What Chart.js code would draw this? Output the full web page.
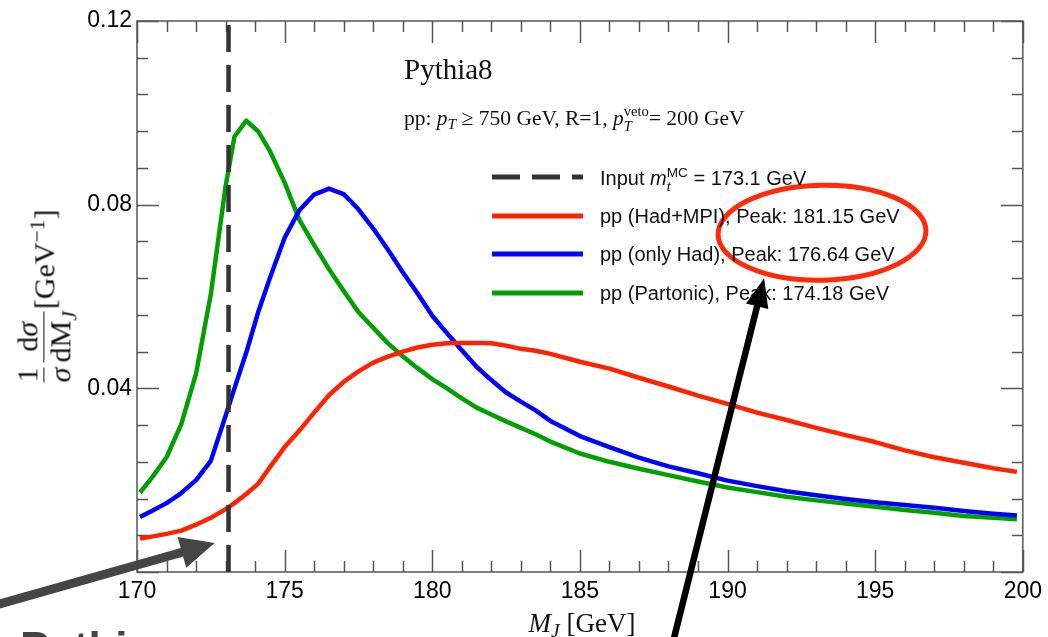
<!DOCTYPE html>
<html><head><meta charset="utf-8">
<script src="https://cdn.jsdelivr.net/npm/chart.js@4"></script>
<style>
html,body{margin:0;padding:0;background:#fff;overflow:hidden;}
#wrap{position:relative;width:1048px;height:637px;overflow:hidden;background:#fff;}
canvas{position:absolute;left:0;top:0;}
.t{position:absolute;white-space:nowrap;line-height:1;}
.serif{font-family:"Liberation Serif","DejaVu Serif",serif;color:#111;}
.sans{font-family:"Liberation Sans",Arial,sans-serif;color:#111;}
.frac{display:inline-flex;flex-direction:column;align-items:center;line-height:1.02;}
.frac .den{border-top:1.6px solid #111;padding-top:1px;}
.lsub{position:relative;top:0.28em;font-size:0.72em;}
.lsup{position:relative;top:-0.45em;font-size:0.72em;}
.stack{display:inline-flex;flex-direction:column;vertical-align:0.6em;font-size:0.68em;line-height:1;height:1em;}
.row{position:absolute;display:flex;align-items:center;height:20px;white-space:nowrap;}
.row svg{display:block;}
</style></head><body>
<div id="wrap">
<canvas id="c" width="1048" height="637"></canvas>
<div class="t serif" style="left:404px;top:55px;font-size:29px;">Pythia8</div>
<div class="t serif" style="left:404px;top:104px;font-size:21.5px;">pp: <i>p</i><span class="lsub"><i>T</i></span> ≥ 750 GeV, R=1, <i>p</i><span class="stack"><span>veto</span><span><i>T</i></span></span>= 200 GeV</div>
<div class="t serif" id="xtitle" style="left:582px;top:610px;font-size:27px;transform:translateX(-50%);"><i>M</i><span class="lsub"><i>J</i></span> [GeV]</div>
<div class="serif" id="ytitle" style="position:absolute;left:44px;top:296px;transform:translate(-50%,-50%) rotate(-90deg);font-size:30px;display:flex;align-items:center;white-space:nowrap;">
  <span class="frac"><span>1</span><span class="den"><i>σ</i></span></span>
  <span class="frac" style="margin-left:5px"><span>d<i>σ</i></span><span class="den">dM<span class="lsub"><i>J</i></span></span></span>
  <span style="margin-left:2px">[GeV<span class="lsup">−1</span>]</span>
</div>
<div id="legend"></div>
<div class="t sans" style="left:20px;top:626px;font-size:44px;font-weight:bold;color:#444;">Pythia</div>
</div>
<script>
// ---- data ----
const xs = [170.1,170.5,171.0,171.5,172.0,172.5,173.0,173.3,173.7,174.1,174.5,175.0,175.5,176.0,176.5,177.0,177.5,178.0,178.5,179.0,179.5,180.0,180.5,181.0,181.5,182.0,182.5,183.0,183.5,184.0,185.0,186.0,187.0,188.0,189.0,190.0,191.0,192.0,193.0,194.0,195.0,196.0,197.0,198.0,199.0,199.8];
const hadMPI = [0.0073,0.0077,0.0083,0.0090,0.0103,0.0118,0.0137,0.0150,0.0170,0.0192,0.0228,0.0272,0.0308,0.0347,0.0385,0.0414,0.0437,0.0456,0.0469,0.0480,0.0489,0.0495,0.0498,0.0499,0.0499,0.0498,0.0493,0.0486,0.0482,0.0475,0.0458,0.0443,0.0423,0.0404,0.0384,0.0366,0.0347,0.0331,0.0314,0.0298,0.0283,0.0265,0.0250,0.0238,0.0226,0.0218];
const onlyHad = [0.0120,0.0133,0.0150,0.0172,0.0200,0.0242,0.0340,0.0400,0.0478,0.0565,0.0640,0.0728,0.0788,0.0822,0.0835,0.0823,0.0790,0.0748,0.0702,0.0653,0.0607,0.0558,0.0520,0.0483,0.0447,0.0418,0.0391,0.0371,0.0352,0.0329,0.0296,0.0272,0.0249,0.0230,0.0215,0.0199,0.0187,0.0176,0.0167,0.0159,0.0152,0.0146,0.0140,0.0133,0.0127,0.0123];
const partonic = [0.0173,0.0205,0.0250,0.0322,0.0432,0.0605,0.0840,0.0948,0.0983,0.0960,0.0917,0.0848,0.0767,0.0712,0.0660,0.0612,0.0566,0.0532,0.0498,0.0470,0.0444,0.0420,0.0400,0.0378,0.0358,0.0343,0.0328,0.0314,0.0300,0.0284,0.0258,0.0240,0.0225,0.0211,0.0197,0.0184,0.0174,0.0164,0.0156,0.0149,0.0142,0.0135,0.0129,0.0122,0.0118,0.0115];
const inputMass = 173.1;
const peaks = ["181.15","176.64","174.18"];
const xMin = 170, xMax = 200, xMajor = 5, xMinor = 1;
const yMin = 0, yMax = 0.12, yMajor = 0.04, yMinor = 0.008;
// annotation anchors in data units
const ellipseAnno = {cx:193.2, cy:0.0739, rx:3.52, ry:0.01034};
const blackArrow = {x0:188.17, y0:-0.0148, x1:191.24, y1:0.0640};
const greyArrow = {x0:165.21, y0:-0.0072, x1:172.63, y1:0.0063};

const colors = {mc:'#333333', mpi:'#ff2200', had:'#0000ff', part:'#00a000'};
const toPts = ys => xs.map((x,i)=>({x, y:ys[i]}));

const legendItems = [
  {html:'Input <i>m</i><span class="stack"><span>MC</span><span><i>t</i></span></span> = '+inputMass.toFixed(1)+' GeV', color:colors.mc, dash:'28 12'},
  {html:'pp (Had+MPI), Peak: '+peaks[0]+' GeV', color:colors.mpi, dash:null},
  {html:'pp (only Had), Peak: '+peaks[1]+' GeV', color:colors.had, dash:null},
  {html:'pp (Partonic), Peak: '+peaks[2]+' GeV', color:colors.part, dash:null}
];
const lg = document.getElementById('legend');
legendItems.forEach((it,i)=>{
  const r = document.createElement('div');
  r.className = 'row sans';
  r.style.left = '492px';
  r.style.top = (167 + i*38.7) + 'px';
  r.style.fontSize = '20px';
  r.innerHTML = '<svg width="91" height="8"><line x1="0" y1="4" x2="91" y2="4" stroke="'+it.color+'" stroke-width="5"'+(it.dash?' stroke-dasharray="'+it.dash+'"':'')+'/></svg><span style="margin-left:17px;line-height:1">'+it.html+'</span>';
  lg.appendChild(r);
});

const framePlugin = {
  id:'frame',
  beforeDatasetsDraw(chart){
    const {ctx, chartArea:a, scales:{x,y}} = chart;
    ctx.save();
    ctx.strokeStyle = '#555'; ctx.lineWidth = 1.5;
    ctx.strokeRect(a.left, a.top, a.right-a.left, a.bottom-a.top);
    ctx.beginPath();
    for (let k=0; xMin + k*xMinor <= xMax + 1e-9; k++){
      const v = xMin + k*xMinor;
      const px = Math.round(x.getPixelForValue(v))+0.5;
      const L = (Math.abs(v/xMajor - Math.round(v/xMajor))<1e-6) ? 22 : 11;
      ctx.moveTo(px, a.bottom); ctx.lineTo(px, a.bottom-L);
      ctx.moveTo(px, a.top); ctx.lineTo(px, a.top+L);
    }
    for (let k=0; yMin + k*yMinor <= yMax + 1e-9; k++){
      const v = yMin + k*yMinor;
      const py = Math.round(y.getPixelForValue(v))+0.5;
      const L = (Math.abs(v/yMajor - Math.round(v/yMajor))<1e-6) ? 22 : 11;
      ctx.moveTo(a.left, py); ctx.lineTo(a.left+L, py);
      ctx.moveTo(a.right, py); ctx.lineTo(a.right-L, py);
    }
    ctx.stroke();
    ctx.restore();
  }
};

function drawArrow(ctx, x0,y0,x1,y1, w, hl, hw, color){
  const ang = Math.atan2(y1-y0, x1-x0);
  const bx = x1 - hl*Math.cos(ang), by = y1 - hl*Math.sin(ang);
  ctx.save();
  ctx.strokeStyle = color; ctx.fillStyle = color; ctx.lineWidth = w; ctx.lineCap='butt';
  ctx.beginPath(); ctx.moveTo(x0,y0); ctx.lineTo(bx+Math.cos(ang)*2, by+Math.sin(ang)*2); ctx.stroke();
  ctx.beginPath();
  ctx.moveTo(x1,y1);
  ctx.lineTo(bx + hw/2*Math.sin(ang), by - hw/2*Math.cos(ang));
  ctx.lineTo(bx - hw/2*Math.sin(ang), by + hw/2*Math.cos(ang));
  ctx.closePath(); ctx.fill();
  ctx.restore();
}

const annoPlugin = {
  id:'anno',
  afterDraw(chart){
    const {ctx, scales:{x,y}} = chart;
    const e = ellipseAnno;
    const cx = x.getPixelForValue(e.cx), cy = y.getPixelForValue(e.cy);
    const rx = x.getPixelForValue(e.cx+e.rx) - cx, ry = cy - y.getPixelForValue(e.cy+e.ry);
    ctx.save();
    ctx.strokeStyle = '#ff2a0a'; ctx.lineWidth = 5;
    ctx.beginPath(); ctx.ellipse(cx, cy, rx, ry, -0.02, 0, Math.PI*2); ctx.stroke();
    ctx.restore();
    drawArrow(ctx, x.getPixelForValue(blackArrow.x0), y.getPixelForValue(blackArrow.y0), x.getPixelForValue(blackArrow.x1), y.getPixelForValue(blackArrow.y1), 6.5, 29, 23, '#000');
    drawArrow(ctx, x.getPixelForValue(greyArrow.x0), y.getPixelForValue(greyArrow.y0), x.getPixelForValue(greyArrow.x1), y.getPixelForValue(greyArrow.y1), 9, 34, 32, '#454545');
  }
};

const tickFont = {family:'"Liberation Sans", Arial, sans-serif', size:23};
new Chart(document.getElementById('c'), {
  type:'line',
  data:{datasets:[
    {label:'Input mt MC', data:[{x:inputMass,y:yMin},{x:inputMass,y:yMax}], borderColor:colors.mc, borderDash:[27,13], borderWidth:4.5},
    {label:'pp (Had+MPI)', data:toPts(hadMPI), borderColor:colors.mpi, borderWidth:4.5},
    {label:'pp (only Had)', data:toPts(onlyHad), borderColor:colors.had, borderWidth:4.5},
    {label:'pp (Partonic)', data:toPts(partonic), borderColor:colors.part, borderWidth:4.5}
  ]},
  options:{
    responsive:false, animation:false, devicePixelRatio:1,
    layout:{padding:{top:21,right:21,left:0,bottom:0}},
    elements:{point:{radius:0}, line:{tension:0, borderJoinStyle:'round', borderCapStyle:'butt'}},
    plugins:{legend:{display:false}, tooltip:{enabled:false}},
    scales:{
      x:{type:'linear', min:xMin, max:xMax,
        grid:{display:false, drawTicks:false}, border:{display:false},
        ticks:{stepSize:xMajor, font:tickFont, color:'#000', padding:6, maxRotation:0, autoSkip:false, callback:v=>String(v)},
        afterFit(s){ s.height = 65; }},
      y:{type:'linear', min:yMin, max:yMax,
        grid:{display:false, drawTicks:false}, border:{display:false},
        ticks:{stepSize:yMajor, font:tickFont, color:'#000', padding:5, callback:v=> Math.abs(v)<1e-9 ? '' : v.toFixed(2)},
        afterFit(s){ s.width = 137; }}
    }
  },
  plugins:[framePlugin, annoPlugin]
});
</script>
</body></html>
